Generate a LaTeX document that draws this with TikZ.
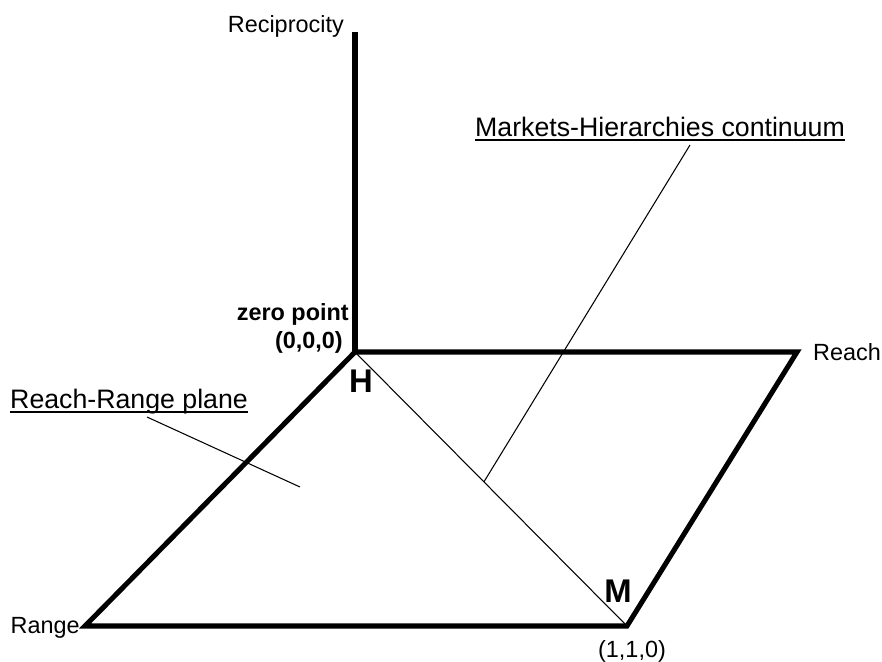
\documentclass[tikz,border=0pt]{standalone}
\usepackage{fontspec}
\setmainfont{Liberation Sans}
\usetikzlibrary{positioning,calc}

\tikzset{
  axis/.style={line width=4.3pt, line join=miter},
  guide/.style={line width=0.9pt},
  uline/.style={line width=1.3pt},
  lbl/.style={inner sep=0pt, font=\fontsize{20}{24}\selectfont},
  zlbl/.style={inner sep=0pt, font=\fontsize{20}{24}\selectfont\bfseries},
  ttl/.style={inner sep=0pt, font=\fontsize{22.8}{27}\selectfont},
  pole/.style={inner sep=0pt, font=\fontsize{28}{32}\selectfont\bfseries},
}

\begin{document}
\begin{tikzpicture}[x=0.03cm, y=-0.03cm]
\useasboundingbox (0,0) rectangle (882,662);
\coordinate (O) at (355,352); % zero point
\coordinate (top) at (355,32);
\coordinate (reach) at (797,352);
\coordinate (M) at (627,626);
\coordinate (range) at (85,626);

\draw[axis] (top) -- (O); % Reciprocity axis
\draw[axis] (O) -- (reach) -- (M) -- (range) -- cycle; % Reach-Range plane
\draw[guide] (O) -- (M); % H-M diagonal

\node[lbl, anchor=base east] (recip) at (344,32) {Reciprocity};
\node[lbl, anchor=base west] (reachlbl) at (813,360) {Reach};
\node[lbl, anchor=base east] (rangelbl) at (80,633) {Range};
\node[lbl, anchor=base] (mcoord) at (632,657) {(1,1,0)};
\node[pole, anchor=base] (Mlbl) at (618,602) {M};
\node[pole, anchor=base] (Hlbl) at (361,392) {H};
\node[zlbl, anchor=base east] (zero) at (349,320) {zero point};
\node[zlbl, anchor=base east] (zcoord) at (343,348) {(0,0,0)};

% callouts
\node[ttl, anchor=base west] (mhtitle) at (475,136) {Markets-Hierarchies continuum};
\draw[uline] ($(mhtitle.base west)+(0,4)$) -- ($(mhtitle.base east)+(0,4)$);
\coordinate (mh) at ($(O)!0.474!(M)$);
\coordinate (mhtip) at (690,145);
\draw[guide] (mh) -- (mhtip);

\node[ttl, anchor=base west] (rrtitle) at (10,408) {Reach-Range plane};
\draw[uline] ($(rrtitle.base west)+(0,4)$) -- ($(rrtitle.base east)+(0,4)$);
\coordinate (rrtip) at (147,417);
\coordinate (rrend) at (300,487);
\draw[guide] (rrtip) -- (rrend);
\end{tikzpicture}
\end{document}
